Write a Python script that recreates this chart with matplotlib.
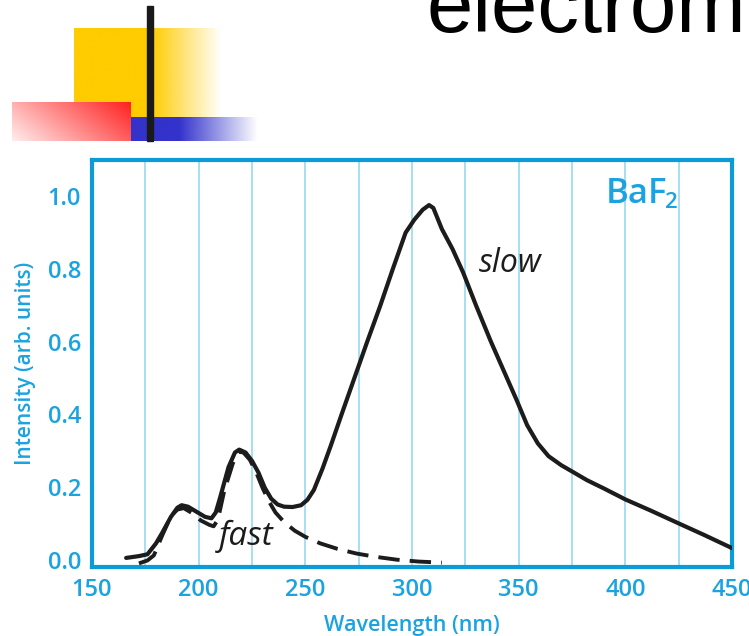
"""BaF2 emission spectrum (fast and slow components) on a slide background."""

import numpy as np
import matplotlib
matplotlib.use("Agg")
import matplotlib.pyplot as plt

# total emission (slow + fast)
total_nm = [166, 172, 176, 180, 183, 187, 190, 192, 195, 199, 203, 206, 208, 210,
            214, 217, 219, 222, 225, 228, 231, 234, 237, 240, 244, 248, 251, 254,
            258, 262, 267, 273, 279, 285, 291, 297, 301, 305, 308, 310, 314, 319,
            324, 330, 337, 343, 349, 354, 359, 364, 370, 375, 382, 390, 400, 412,
            425, 437, 450]
total_int = [0.005, 0.01, 0.015, 0.045, 0.075, 0.118, 0.143, 0.150, 0.146, 0.132,
             0.118, 0.114, 0.13, 0.17, 0.255, 0.295, 0.303, 0.295, 0.272, 0.24,
             0.198, 0.168, 0.152, 0.146, 0.145, 0.150, 0.165, 0.192, 0.25, 0.315,
             0.4, 0.5, 0.6, 0.697, 0.8, 0.9, 0.935, 0.963, 0.976, 0.968, 0.91,
             0.855, 0.79, 0.7, 0.6, 0.52, 0.44, 0.37, 0.32, 0.285, 0.26, 0.243,
             0.219, 0.196, 0.166, 0.135, 0.1, 0.068, 0.032]

# fast component only
fast_nm = [172, 176, 179, 183, 187, 190, 193, 197, 201, 205, 207, 209, 212, 216,
           219, 221, 224, 227, 230, 233, 236, 240, 245, 250, 257, 265, 274, 283,
           293, 303, 314]
fast_int = [-0.01, -0.002, 0.012, 0.068, 0.12, 0.138, 0.142, 0.128, 0.108, 0.096,
            0.092, 0.11, 0.19, 0.265, 0.297, 0.295, 0.275, 0.24, 0.197, 0.16,
            0.13, 0.104, 0.08, 0.063, 0.045, 0.03, 0.017, 0.008, 0.0, -0.005,
            -0.008]

x_ticks = [150, 200, 250, 300, 350, 400, 450]
y_ticks = [0.0, 0.2, 0.4, 0.6, 0.8, 1.0]
grid_nm = [175, 200, 225, 250, 275, 300, 325, 350, 375, 400, 425]

BLUE = "#0b9bd8"
LABEL_BLUE = "#1aa3e0"
GRID_BLUE = "#8fd4f1"
INK = "#1c1c1c"
FONT = "Open Sans"

W, H = 749, 636
fig = plt.figure(figsize=(W / 100, H / 100), dpi=100)

# slide decoration drawn in pixel coordinates
deco = fig.add_axes([0, 0, 1, 1])
deco.set_xlim(0, W)
deco.set_ylim(H, 0)
deco.axis("off")


def fade_image(rgb, solid_frac):
    n = 200
    ramp = np.ones(n)
    k = int(n * solid_frac)
    ramp[k:] = np.linspace(1, 0, n - k)
    img = np.zeros((2, n, 4))
    img[..., :3] = matplotlib.colors.to_rgb(rgb)
    img[..., 3] = ramp
    return img


deco.imshow(fade_image("#ffcc00", 0.52), extent=(74, 222, 118, 28),
            aspect="auto", interpolation="bilinear", zorder=1)

# red block: light pink bottom-left to red top-right
yy, xx = np.mgrid[0:40, 0:120]
t = (xx / 119.0) * 0.7 + (1 - yy / 39.0) * 0.3
red = np.zeros((40, 120, 4))
red[..., 0] = 1.0
red[..., 1] = 0.93 - 0.8 * t
red[..., 2] = 0.93 - 0.8 * t
red[..., 3] = 1.0
deco.imshow(red, extent=(12, 131, 141, 102), aspect="auto",
            interpolation="bilinear", zorder=2)

deco.imshow(fade_image("#3333cc", 0.38), extent=(131, 258, 141, 117),
            aspect="auto", interpolation="bilinear", zorder=2)
deco.add_patch(plt.Rectangle((147, 6), 5.5, 135, color="#1a1a1a", zorder=3))

fig.text(426 / W, 1 - 32 / H, "electrom", fontsize=60, family="Liberation Sans",
         color="black", va="baseline", ha="left")

# spectrum axes
ax = fig.add_axes([92 / W, 1 - 567 / H, (732 - 92) / W, (567 - 160) / H])
ax.set_xlim(150, 450)
ax.set_ylim(-0.02, 1.1)

for g in grid_nm:
    ax.axvline(g, color=GRID_BLUE, lw=1.1, zorder=1)

ax.plot(total_nm, total_int, color=INK, lw=3.0, solid_joinstyle="round",
        solid_capstyle="round", zorder=3)
ax.plot(fast_nm, fast_int, color=INK, lw=2.8, dashes=(5.5, 2.6), zorder=3)

for side in ax.spines.values():
    side.set_color(BLUE)
    side.set_linewidth(3)

ax.set_xticks(x_ticks)
ax.set_yticks(y_ticks)
ax.set_xticklabels([str(v) for v in x_ticks])
ax.set_yticklabels([f"{v:.1f}" for v in y_ticks])
ax.tick_params(length=0, labelcolor=LABEL_BLUE, labelsize=17)
ax.tick_params(axis="y", pad=8)
ax.tick_params(axis="x", pad=8)
for lab in ax.get_xticklabels() + ax.get_yticklabels():
    lab.set_family(FONT)
    lab.set_fontweight("semibold")

ax.set_xlabel("Wavelength (nm)", color=LABEL_BLUE, fontsize=15.5, family=FONT,
              fontweight="semibold", labelpad=9)
ax.set_ylabel("Intensity (arb. units)", color=LABEL_BLUE, fontsize=15,
              family=FONT, fontweight="semibold", labelpad=8)

ax.text(606 / W, 1 - 203 / H, "BaF", transform=fig.transFigure, color=LABEL_BLUE,
        fontsize=25, family=FONT, fontweight="semibold", va="baseline")
ax.text(665 / W, 1 - 208 / H, "2", transform=fig.transFigure, color=LABEL_BLUE,
        fontsize=16, family=FONT, fontweight="semibold", va="baseline")
ax.text(479 / W, 1 - 272 / H, "slow", transform=fig.transFigure, color=INK,
        fontsize=23, family=FONT, style="italic", va="baseline")
ax.text(219 / W, 1 - 545 / H, "fast", transform=fig.transFigure, color=INK,
        fontsize=24, family=FONT, style="italic", va="baseline")

fig.savefig("out.png", dpi=100)
